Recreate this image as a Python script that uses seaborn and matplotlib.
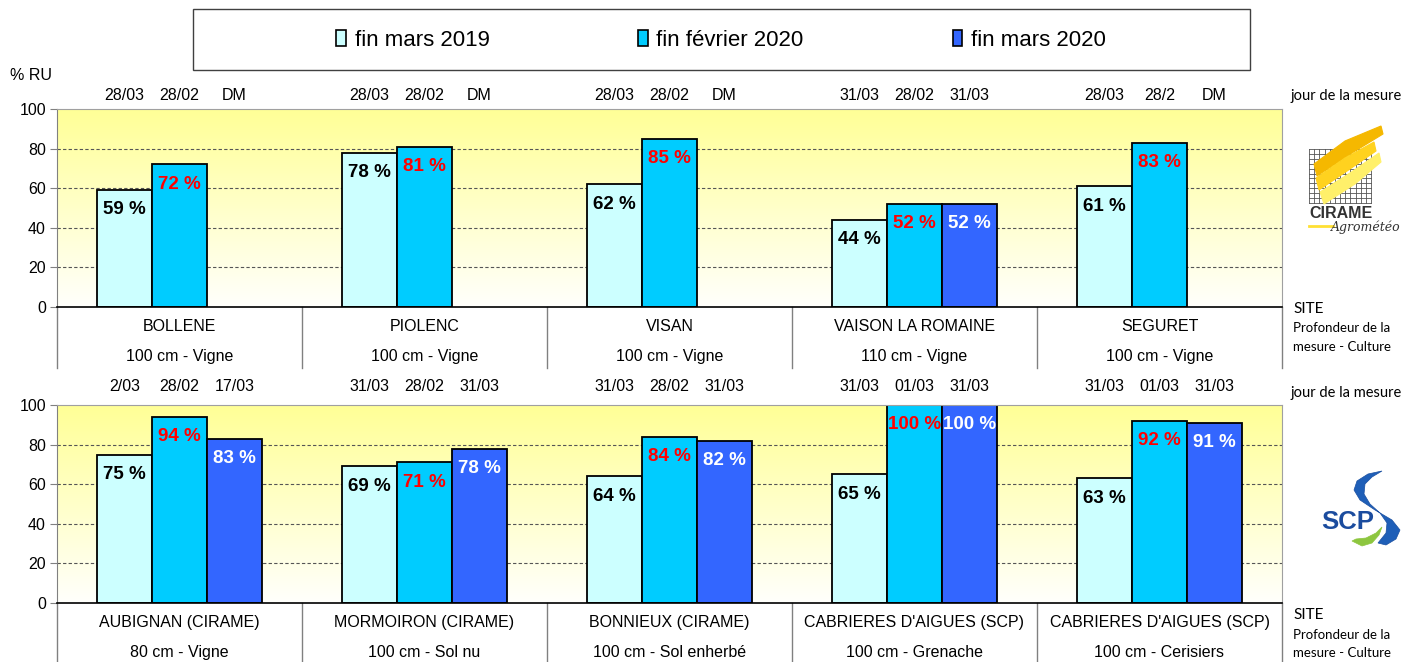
import numpy as np
import pandas as pd
import matplotlib
matplotlib.use("Agg")
import matplotlib.pyplot as plt
import matplotlib.transforms as mtransforms
from matplotlib.patches import Rectangle, Polygon
from matplotlib.lines import Line2D
import seaborn as sns

# ---------------- data ----------------
series = ["fin mars 2019", "fin février 2020", "fin mars 2020"]
series_colors = ["#CCFFFF", "#00CCFF", "#3366FF"]
value_text_colors = ["black", "#FF0000", "white"]

top_sites = ["BOLLENE", "PIOLENC", "VISAN", "VAISON LA ROMAINE", "SEGURET"]
top_depths = ["100 cm - Vigne", "100 cm - Vigne", "100 cm - Vigne", "110 cm - Vigne", "100 cm - Vigne"]
top_mars2019 = [59, 78, 62, 44, 61]
top_fev2020 = [72, 81, 85, 52, 83]
top_mars2020 = [None, None, None, 52, None]
top_dates = [["28/03", "28/02", "DM"], ["28/03", "28/02", "DM"], ["28/03", "28/02", "DM"],
             ["31/03", "28/02", "31/03"], ["28/03", "28/2", "DM"]]

bot_sites = ["AUBIGNAN (CIRAME)", "MORMOIRON (CIRAME)", "BONNIEUX (CIRAME)",
             "CABRIERES D'AIGUES (SCP)", "CABRIERES D'AIGUES (SCP)"]
bot_depths = ["80 cm - Vigne", "100 cm - Sol nu", "100 cm - Sol enherbé", "100 cm - Grenache", "100 cm - Cerisiers"]
bot_mars2019 = [75, 69, 64, 65, 63]
bot_fev2020 = [94, 71, 84, 100, 92]
bot_mars2020 = [83, 78, 82, 100, 91]
bot_dates = [["2/03", "28/02", "17/03"], ["31/03", "28/02", "31/03"], ["31/03", "28/02", "31/03"],
             ["31/03", "01/03", "31/03"], ["31/03", "01/03", "31/03"]]

yticks = [0, 20, 40, 60, 80, 100]

# ---------------- style ----------------
plt.rcParams["font.family"] = ["Liberation Sans", "DejaVu Sans"]
W, H = 1416, 662
fig = plt.figure(figsize=(W / 100, H / 100), dpi=100)
fig.patch.set_facecolor("white")


def fx(x):
    return x / W


def fy(y):
    return 1 - y / H


BAR_W = 0.675
grad = np.linspace(0, 1, 256)[:, None]
top_c = np.array([255, 255, 150]) / 255
bot_c = np.array([255, 255, 252]) / 255
grad_img = (grad[..., None] * top_c + (1 - grad[..., None]) * bot_c)
grad_img = np.repeat(grad_img, 2, axis=1)


def draw_panel(ax, sites, depths, v1, v2, v3, dates, date_y, table_depth):
    n = len(sites)
    rows = []
    for i in range(n):
        for s, vals in zip(series, (v1, v2, v3)):
            if vals[i] is not None:
                rows.append({"pos": i, "serie": s, "val": vals[i]})
    df = pd.DataFrame(rows)
    ax.imshow(grad_img, extent=[0, 1, 0, 1], transform=ax.transAxes, aspect="auto",
              origin="lower", zorder=0)
    sns.barplot(data=df, x="pos", y="val", hue="serie", hue_order=series, order=list(range(n)),
                palette=dict(zip(series, series_colors)), width=BAR_W, saturation=1,
                edgecolor="black", linewidth=1.3, errorbar=None, ax=ax, zorder=2)
    ax.set_xlim(-0.5, n - 0.5)
    ax.set_ylim(0, 100)
    ax.set_yticks(yticks)
    ax.set_xticks([])
    ax.set_xlabel("")
    ax.set_ylabel("")
    ax.tick_params(axis="y", labelsize=11.5, length=5, color="#808080", pad=3)
    for v in yticks[1:-1]:
        ax.axhline(v, ls=(0, (3, 2)), color="#555555", lw=0.8, zorder=0.5)
    for side in ["top", "right"]:
        ax.spines[side].set_color("#A0A0A0")
    ax.spines["left"].set_color("#808080")
    ax.spines["bottom"].set_color("black")
    ax.spines["bottom"].set_linewidth(1.2)

    # value labels inside bars
    cols_rgba = [matplotlib.colors.to_rgba(c) for c in series_colors]
    for bar in ax.patches:
        if not isinstance(bar, Rectangle):
            continue
        h = bar.get_height()
        if h is None or np.isnan(h) or h <= 0:
            continue
        fc = bar.get_facecolor()
        j = int(np.argmin([sum((a - b) ** 2 for a, b in zip(fc[:3], c[:3])) for c in cols_rgba]))
        ax.text(bar.get_x() + bar.get_width() / 2, h - 10, f"{h:.0f} %", ha="center", va="center",
                fontsize=13.5, fontweight="bold", color=value_text_colors[j], zorder=3)

    # measurement dates above
    blend = mtransforms.blended_transform_factory(ax.transData, ax.transAxes)
    step = BAR_W / 3
    for i in range(n):
        for j in range(3):
            ax.text(i + (j - 1) * step, date_y, dates[i][j], transform=blend, ha="center",
                    va="center", fontsize=11.5, clip_on=False)

    # category table below axis
    for b in np.arange(n + 1) - 0.5:
        ax.add_line(Line2D([b, b], [0, -table_depth], transform=blend, color="#808080",
                           lw=1, clip_on=False))
    for i in range(n):
        ax.text(i, -0.10, sites[i], transform=blend, ha="center", va="center", fontsize=11.5)
        ax.text(i, -0.25, depths[i], transform=blend, ha="center", va="center", fontsize=11.5)


ax_left, ax_w = fx(57), fx(1282) - fx(57)
ax_h = fy(109) - fy(307)
ax_top = fig.add_axes([ax_left, fy(307), ax_w, ax_h])
ax_bot = fig.add_axes([ax_left, fy(603), ax_w, ax_h])

draw_panel(ax_top, top_sites, top_depths, top_mars2019, top_fev2020, top_mars2020, top_dates, 1.066, 0.308)
draw_panel(ax_bot, bot_sites, bot_depths, bot_mars2019, bot_fev2020, bot_mars2020, bot_dates, 1.095, 0.30)

# legend
leg = ax_bot.get_legend()
handles = leg.legend_handles
for h_ in handles:
    h_.set_edgecolor("black")
    h_.set_linewidth(1.2)
ax_top.get_legend().remove()
leg.remove()
fig.add_artist(Rectangle((fx(193), fy(70)), fx(1250) - fx(193), fy(9) - fy(70), transform=fig.transFigure,
                         facecolor="white", edgecolor="#404040", lw=1))
fig.legend(handles, series, loc="center", bbox_to_anchor=(fx(721), fy(40)), ncol=3, frameon=False,
           fontsize=16, handlelength=0.42, handleheight=0.75, handletextpad=0.4, columnspacing=6.7)

# axis title
fig.text(fx(10), fy(76), "% RU", fontsize=11.5, va="center", ha="left")

# right-side annotations
side_font = ["Lato", "DejaVu Sans"]
for yj, ys, yp1, yp2 in [(96, 309, 328, 347), (393, 615, 635, 653)]:
    fig.text(fx(1290), fy(yj), "jour de la mesure", fontsize=10.5, family=side_font, va="center")
    fig.text(fx(1293), fy(ys), "SITE", fontsize=11, family=side_font, va="center")
    fig.text(fx(1293), fy(yp1), "Profondeur de la", fontsize=9.5, family=side_font, va="center")
    fig.text(fx(1293), fy(yp2), "mesure - Culture", fontsize=9.5, family=side_font, va="center")

# CIRAME logo (approximation)
gx0, gx1, gy0, gy1 = 1309, 1371, 149, 203
for k in range(13):
    x = gx0 + k * (gx1 - gx0) / 12
    fig.add_artist(Line2D([fx(x), fx(x)], [fy(gy0), fy(gy1)], color="#555555", lw=0.6, zorder=1))
for k in range(12):
    y = gy0 + k * (gy1 - gy0) / 11
    fig.add_artist(Line2D([fx(gx0), fx(gx1)], [fy(y), fy(y)], color="#555555", lw=0.6, zorder=1))
stripes = [
    [(1314, 164), (1345, 141), (1381, 126), (1383, 134), (1352, 153), (1317, 176)],
    [(1316, 178), (1345, 158), (1374, 142), (1376, 151), (1350, 169), (1319, 190)],
    [(1320, 192), (1350, 173), (1379, 153), (1381, 162), (1355, 184), (1324, 204)],
]
for pts, c in zip(stripes, ["#F5B800", "#FFD21F", "#FFF06A"]):
    fig.add_artist(Polygon([(fx(x), fy(y)) for x, y in pts], closed=True, transform=fig.transFigure,
                           facecolor=c, edgecolor=c, lw=0.8, zorder=3))
fig.text(fx(1309), fy(213), "CIRAME", fontsize=11.5, fontweight="bold", color="#333333", va="center")
fig.add_artist(Line2D([fx(1309), fx(1333)], [fy(226), fy(226)], color="#FFE033", lw=2))
fig.text(fx(1331), fy(227), "Agrométéo", fontsize=9, style="italic", family=["DejaVu Serif"],
         color="#333333", va="center")

# SCP logo (approximation)
s_shape = [(1382, 471), (1368, 474), (1357, 481), (1354, 490), (1360, 500), (1375, 510), (1392, 520),
           (1400, 530), (1396, 539), (1386, 545), (1378, 543), (1386, 533), (1387, 523), (1380, 513),
           (1370, 504), (1364, 494), (1365, 484), (1372, 477)]
fig.add_artist(Polygon([(fx(x), fy(y)) for x, y in s_shape], closed=True, transform=fig.transFigure,
                       facecolor="#1F5FB8", edgecolor="#1A4FA0", lw=0.5))
green = [(1352, 541), (1362, 546), (1372, 543), (1379, 535), (1382, 527), (1376, 533), (1366, 538),
         (1356, 539)]
fig.add_artist(Polygon([(fx(x), fy(y)) for x, y in green], closed=True, transform=fig.transFigure,
                       facecolor="#8DC63F", edgecolor="#8DC63F", lw=0.5))
fig.text(fx(1321), fy(522), "SCP", fontsize=18.5, fontweight="bold", color="#1B4C9E", va="center")

fig.savefig("out.png", dpi=100, facecolor="white")
